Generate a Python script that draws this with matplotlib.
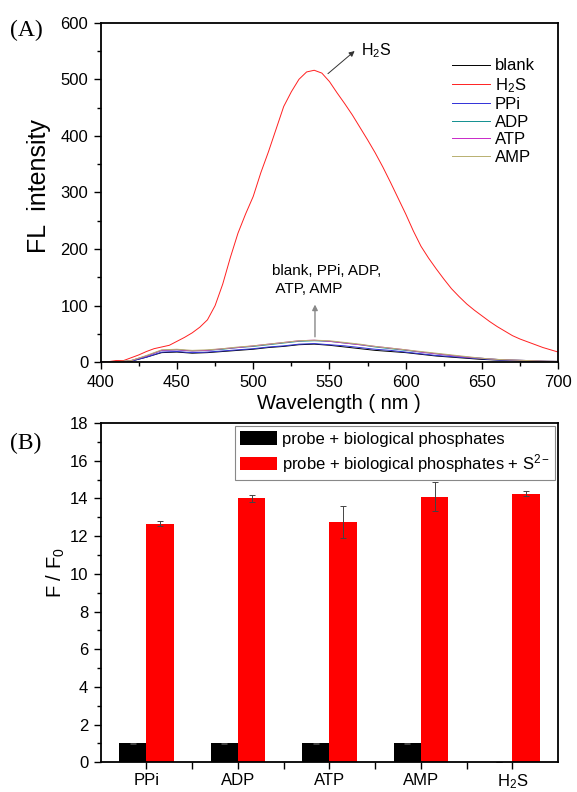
import numpy as np
import matplotlib
matplotlib.use("Agg")
import matplotlib.pyplot as plt
from matplotlib.ticker import MultipleLocator, FixedLocator

plt.rcParams['font.family'] = ['Liberation Sans', 'DejaVu Sans']
plt.rcParams['mathtext.fontset'] = 'custom'
plt.rcParams['mathtext.rm'] = 'Liberation Sans'
plt.rcParams['mathtext.it'] = 'Liberation Sans:italic'

# ---- Panel A: emission spectra ----
wl_fine = np.arange(400, 701, 5)
h2s = [0, 1, 3, 3, 8, 13, 19, 24, 27, 30, 37, 44, 52, 62, 75, 100, 138, 185,
       228, 262, 293, 335, 372, 412, 452, 478, 500, 513, 516, 511, 496, 476,
       457, 437, 415, 393, 370, 345, 318, 290, 262, 232, 205, 184, 165, 147,
       130, 116, 103, 92, 82, 72, 63, 55, 47, 41, 36, 31, 26, 22, 18]

wl = np.arange(400, 701, 10)
blank = [0, 0, 2, 9, 17, 18, 16, 17, 19, 21, 23, 26, 28, 31, 32, 30, 27, 24,
         21, 19, 17, 14, 11, 9, 7, 5, 4, 3, 2, 1.5, 1]
ppi = [0, 0, 2, 9, 18, 19, 17, 18, 20, 22, 24, 27, 29, 32, 33, 31, 29, 26,
       23, 21, 18, 15, 12, 10, 8, 6, 4, 3, 2, 1.5, 1]
adp = [0, 0, 3, 11, 21, 22, 20, 21, 23, 26, 28, 31, 34, 37, 38, 37, 34, 31,
       27, 24, 21, 18, 15, 12, 9, 7, 5, 4, 3, 2, 1.5]
atp = [0, 0, 3, 11, 21, 22, 20, 21, 24, 26, 29, 32, 35, 38, 39, 37, 34, 31,
       28, 25, 22, 18, 15, 12, 9, 7, 5, 4, 3, 2, 1.5]
amp = [0, 1, 3, 12, 22, 23, 21, 22, 24, 27, 29, 32, 35, 38, 39, 38, 35, 32,
       28, 25, 22, 19, 16, 13, 10, 7, 5, 4, 3, 2, 1.5]

# ---- Panel B: F/F0 bars ----
categories = ['PPi', 'ADP', 'ATP', 'AMP', 'H$_2$S']
probe_vals = [1.0, 1.0, 1.0, 1.0, 0.0]
probe_err = [0.02, 0.03, 0.03, 0.02, 0.0]
sulfide_vals = [12.65, 14.0, 12.75, 14.1, 14.25]
sulfide_err = [0.13, 0.17, 0.85, 0.75, 0.12]

fig = plt.figure(figsize=(5.77, 7.92), dpi=100)

TICK_FS = 12


def style_axes(ax):
    for s in ax.spines.values():
        s.set_linewidth(1.3)
    ax.tick_params(which='both', direction='out', top=False, right=False,
                   labelsize=TICK_FS, width=1.0)
    ax.tick_params(which='major', length=5, pad=4)
    ax.tick_params(which='minor', length=3)


# Panel A
axA = fig.add_axes([0.1745, 0.5426, 0.793, 0.4287])
lw = 0.7
axA.plot(wl, blank, color='#000000', lw=lw, label='blank')
axA.plot(wl_fine, h2s, color='#ff2020', lw=lw, label='H$_2$S')
axA.plot(wl, ppi, color='#3030d8', lw=lw, label='PPi')
axA.plot(wl, adp, color='#108f8f', lw=lw, label='ADP')
axA.plot(wl, atp, color='#c828c8', lw=lw, label='ATP')
axA.plot(wl, amp, color='#b8b070', lw=lw, label='AMP')
axA.set_xlim(400, 700)
axA.set_ylim(0, 600)
axA.xaxis.set_major_locator(MultipleLocator(50))
axA.xaxis.set_minor_locator(MultipleLocator(25))
axA.yaxis.set_major_locator(MultipleLocator(100))
axA.yaxis.set_minor_locator(MultipleLocator(50))
style_axes(axA)
axA.set_xlabel('Wavelength ( nm )', fontsize=14.5, labelpad=3)
axA.xaxis.label.set_x(0.52)
axA.set_ylabel('FL  intensity', fontsize=18, labelpad=7)
axA.yaxis.label.set_y(0.52)
axA.legend(loc='upper left', bbox_to_anchor=(0.768, 0.895), frameon=False,
           fontsize=12, handlelength=2.3, handletextpad=0.25,
           labelspacing=0.15, borderaxespad=0, borderpad=0)
axA.annotate('', xy=(566.5, 550), xytext=(549, 510),
             arrowprops=dict(arrowstyle='-|>', color='#333333', lw=0.7,
                             mutation_scale=8, shrinkA=0, shrinkB=0))
axA.text(570.5, 551, 'H$_2$S', fontsize=11.5, ha='left', va='center')
axA.annotate('', xy=(540.5, 102), xytext=(540.5, 45),
             arrowprops=dict(arrowstyle='-|>', color='#888888', lw=1.0,
                             mutation_scale=8, shrinkA=0, shrinkB=0))
axA.text(512, 145, 'blank, PPi, ADP,\n ATP, AMP', fontsize=11,
         ha='left', va='center', linespacing=1.4)
fig.text(0.017, 0.962, '(A)', fontsize=17, family='Liberation Serif',
         va='center')

# Panel B
axB = fig.add_axes([0.1745, 0.0375, 0.793, 0.4284])
x = np.arange(1, len(categories) + 1)
bw = 0.3
axB.bar(x - bw / 2, probe_vals, width=bw, color='black',
        yerr=probe_err, capsize=2.5,
        error_kw=dict(ecolor='#444444', elinewidth=0.7, capthick=0.7),
        label='probe + biological phosphates')
axB.bar(x + bw / 2, sulfide_vals, width=bw, color='#ff0000',
        yerr=sulfide_err, capsize=2.5,
        error_kw=dict(ecolor='#444444', elinewidth=0.7, capthick=0.7),
        label='probe + biological phosphates + S$^{2-}$')
axB.set_xlim(0.5, 5.5)
axB.set_ylim(0, 18)
axB.set_xticks(x)
axB.set_xticklabels(categories)
axB.xaxis.set_minor_locator(FixedLocator([1.5, 2.5, 3.5, 4.5]))
axB.yaxis.set_major_locator(MultipleLocator(2))
axB.yaxis.set_minor_locator(MultipleLocator(1))
style_axes(axB)
axB.tick_params(axis='x', which='both', length=5, pad=2.5)
axB.set_ylabel('F / F$_0$', fontsize=14.5, labelpad=2)
axB.yaxis.label.set_y(0.56)
leg = axB.legend(loc='upper right', bbox_to_anchor=(1.0, 1.0), fontsize=12,
                 frameon=True, fancybox=False, edgecolor='#888888',
                 framealpha=1, handlelength=2.2, handleheight=0.85,
                 handletextpad=0.3, labelspacing=0.3, borderaxespad=0.2,
                 borderpad=0.3)
leg.get_frame().set_linewidth(0.8)
fig.text(0.017, 0.44, '(B)', fontsize=17, family='Liberation Serif',
         va='center')

fig.savefig('out.png', dpi=100)
